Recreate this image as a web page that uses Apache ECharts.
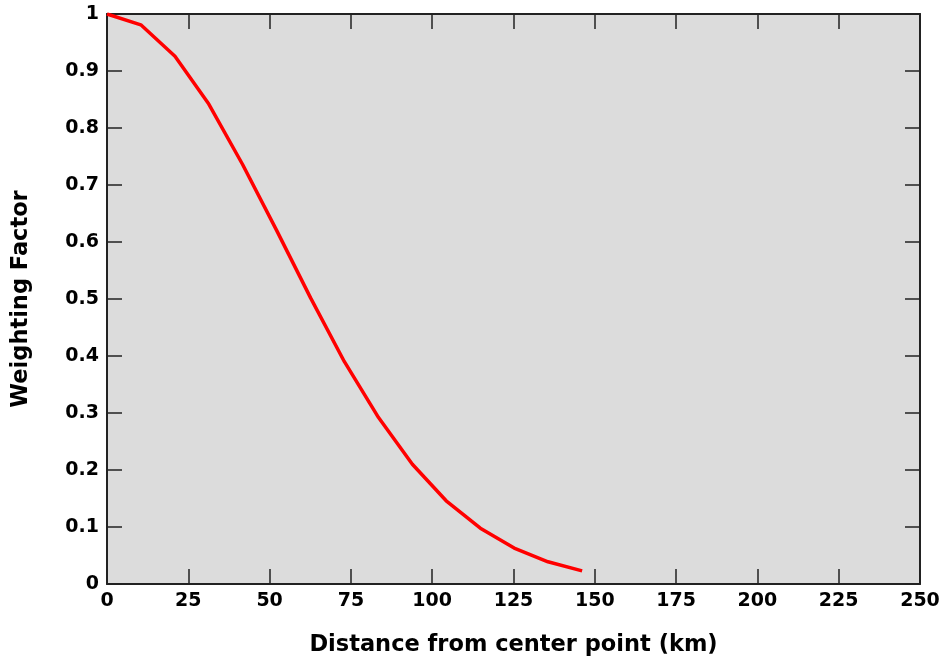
<!DOCTYPE html>
<html>
<head>
<meta charset="utf-8">
<script src="https://cdn.jsdelivr.net/npm/echarts@6/dist/echarts.min.js"></script>
<style>
  html, body { margin: 0; padding: 0; background: #fff; }
  #chart { width: 940px; height: 663px; }
</style>
</head>
<body>
<div id="chart"></div>
<script>
// distance from center point (km) and the weight
const distances = [0, 10.4, 20.9, 31.3, 41.7, 52.2, 62.6, 73.0, 83.5, 93.9, 104.3, 114.8, 125.2, 135.6, 146.1]
const weights = [1, 0.981, 0.926, 0.842, 0.736, 0.62, 0.502, 0.39, 0.292, 0.21, 0.146, 0.098, 0.063, 0.039, 0.023]

const FONT = "'DejaVu Sans', 'Liberation Sans', sans-serif"
const AXIS_COLOR = '#222'

const chart = echarts.init(document.getElementById('chart'))

const axisCommon = {
  axisLine: { show: true, onZero: false, lineStyle: { color: AXIS_COLOR, width: 2 } },
  axisTick: { show: true, inside: true, length: 15, lineStyle: { color: AXIS_COLOR, width: 1.5 } },
  splitLine: { show: false },
}

chart.setOption({
  animation: false,
  grid: {
    left: 107, right: 20, top: 14, bottom: 79,
    outerBoundsMode: 'none',
    show: true, backgroundColor: '#dcdcdc', borderWidth: 0,
  },
  xAxis: [
    {
      ...axisCommon,
      type: 'value', min: 0, max: 250, interval: 25, position: 'bottom',
      axisLabel: { color: '#000', fontFamily: FONT, fontWeight: 'bold', fontSize: 19, margin: 8 },
      name: 'Distance from center point (km)',
      nameLocation: 'middle', nameGap: 50,
      nameTextStyle: { color: '#000', fontFamily: FONT, fontWeight: 'bold', fontSize: 22.5 },
    },
    {
      ...axisCommon,
      type: 'value', min: 0, max: 250, interval: 25, position: 'top',
      axisLabel: { show: false },
    },
  ],
  yAxis: [
    {
      ...axisCommon,
      type: 'value', min: 0, max: 1, interval: 0.1, position: 'left',
      axisLabel: { color: '#000', fontFamily: FONT, fontWeight: 'bold', fontSize: 19, margin: 8 },
      name: 'Weighting Factor',
      nameLocation: 'middle', nameGap: 74, nameRotate: 90,
      nameTextStyle: { color: '#000', fontFamily: FONT, fontWeight: 'bold', fontSize: 22.5 },
    },
    {
      ...axisCommon,
      type: 'value', min: 0, max: 1, interval: 0.1, position: 'right',
      axisLabel: { show: false },
    },
  ],
  series: [{
    type: 'line',
    xAxisIndex: 0,
    yAxisIndex: 0,
    data: distances.map((d, i) => [d, weights[i]]),
    showSymbol: false,
    lineStyle: { color: '#ff0000', width: 3.5 },
  }],
})
</script>
</body>
</html>
